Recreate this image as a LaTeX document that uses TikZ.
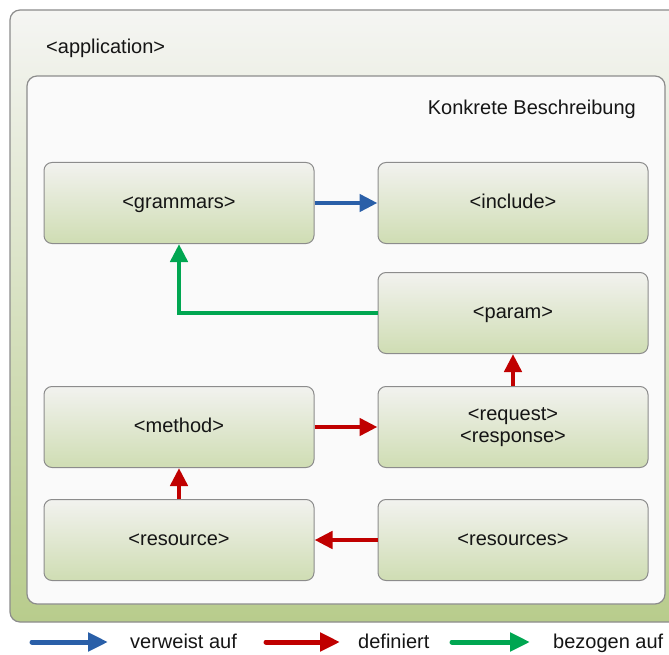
\documentclass[tikz,border=0pt]{standalone}
\usepackage{fontspec}
\setmainfont{Liberation Sans}
\usetikzlibrary{arrows.meta}
\definecolor{frameline}{HTML}{8C8C8C}
\definecolor{outertop}{HTML}{F5F5F3}
\definecolor{outerbot}{HTML}{B8CC8C}
\definecolor{innerfill}{HTML}{FAFAFA}
\definecolor{boxtop}{HTML}{F2F2EF}
\definecolor{boxbot}{HTML}{CFDDB3}
\definecolor{refblue}{HTML}{2A5FA8}
\definecolor{defred}{HTML}{C00000}
\definecolor{relgreen}{HTML}{00A651}
\definecolor{txt}{HTML}{151515}
\tikzset{
  elem/.style={draw=frameline, line width=1pt, rounded corners=8pt,
    top color=boxtop, bottom color=boxbot, minimum width=270pt,
    minimum height=81pt, align=center, text=txt,
    font=\fontsize{20}{23}\selectfont},
  oneline/.style={text height=14.5pt, text depth=4pt},
  conn/.style={line width=4.5pt, -{Triangle[length=18pt,width=17pt]}},
  legarrow/.style={line width=5pt, line cap=round, -{Triangle[length=20pt,width=18pt]}},
  legtext/.style={anchor=base west, text=txt, inner sep=0pt, font=\fontsize{20}{23}\selectfont},
  label/.style={text=txt, inner sep=0pt, font=\fontsize{20}{23}\selectfont}
}
\begin{document}
\begin{tikzpicture}[x=1pt, y=-1pt]
  \useasboundingbox (0,0) rectangle (669,655);
  \clip (0,0) rectangle (669,655);
  % outer <application> frame
  \draw[draw=frameline, line width=1.2pt, rounded corners=10pt,
        top color=outertop, bottom color=outerbot]
        (10,10) rectangle (700,622);
  \node[label, anchor=base west] (app) at (46,54) {<application>};
  % inner frame
  \draw[draw=frameline, line width=1.2pt, rounded corners=10pt, fill=innerfill]
        (27,76) rectangle (665,604);
  \node[label, anchor=base east] (konkret) at (636,115) {Konkrete Beschreibung};
  % elements
  \node[elem, oneline] (grammars)  at (179,203) {<grammars>};
  \node[elem, oneline] (include)   at (513,203) {<include>};
  \node[elem, oneline] (param)     at (513,313) {<param>};
  \node[elem, oneline] (method)    at (179,427) {<method>};
  \node[elem] (request)   at (513,427) {<request>\\[-1pt]<response>};
  \node[elem, oneline] (resource)  at (179,540) {<resource>};
  \node[elem, oneline] (resources) at (513,540) {<resources>};
  % connectors
  \draw[conn, refblue] (grammars.east) -- (include.west);
  \draw[conn, relgreen] (param.west) -| (grammars.south);
  \draw[conn, defred] (request.north) -- (param.south);
  \draw[conn, defred] (method.east) -- (request.west);
  \draw[conn, defred] (resource.north) -- (method.south);
  \draw[conn, defred] (resources.west) -- (resource.east);
  % legend
  \coordinate (b1) at (32,642);  \coordinate (b2) at (108,642);
  \coordinate (r1) at (266,642); \coordinate (r2) at (340,642);
  \coordinate (g1) at (452,642); \coordinate (g2) at (530,642);
  \draw[legarrow, refblue] (b1) -- (b2);
  \draw[legarrow, defred] (r1) -- (r2);
  \draw[legarrow, relgreen] (g1) -- (g2);
  \node[legtext] (lblue) at (130,648) {verweist auf};
  \node[legtext] (lred) at (358,648) {definiert};
  \node[legtext] (lgreen) at (553,648) {bezogen auf};
\end{tikzpicture}
\end{document}
